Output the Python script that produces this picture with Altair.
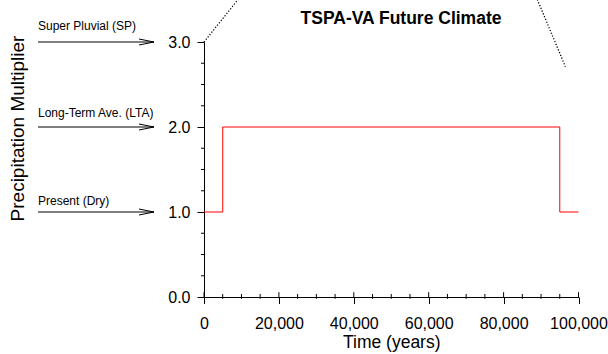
import altair as alt
import pandas as pd

# ---- data ----
time_years = [0, 5000, 95000, 100000]
multiplier = [1.0, 2.0, 1.0, 1.0]

x_major = [0, 20000, 40000, 60000, 80000, 100000]
x_minor = [5000, 10000, 15000, 25000, 30000, 35000, 45000, 50000, 55000,
           65000, 70000, 75000, 85000, 90000, 95000]
y_major = [0.0, 1.0, 2.0, 3.0]
y_minor = [0.25, 0.5, 0.75, 1.25, 1.5, 1.75, 2.25, 2.5, 2.75]

climate_labels = ["Super Pluvial (SP)", "Long-Term Ave. (LTA)", "Present (Dry)"]
climate_levels = [3.0, 2.0, 1.0]

zoom_side = ["left", "left", "right", "right"]
zoom_x = [0, 9100, 89000, 96500]
zoom_y = [3.0, 3.5, 3.5, 2.71]

chart_title = "TSPA-VA Future Climate"
x_title = "Time (years)"
y_title = "Precipitation Multiplier"

FONT = "Liberation Sans"
W, H = 374.5, 255

# ---- tables ----
df = pd.DataFrame({"t": time_years, "m": multiplier})
df_xmaj = pd.DataFrame({"t": x_major})
df_xmin = pd.DataFrame({"t": x_minor})
df_ymin = pd.DataFrame({"m": y_minor})
df_lab = pd.DataFrame({"label": climate_labels, "m": climate_levels})
df_zoom = pd.DataFrame({"side": zoom_side, "t": zoom_x, "m": zoom_y})
df_one = pd.DataFrame({"k": [0]})

xs = alt.Scale(domain=[0, 100000], nice=False, zero=False)
ys = alt.Scale(domain=[0, 3], nice=False, zero=False)

x_axis = alt.Axis(values=x_major, format=",.0f", labelFontSize=16, tickSize=6.5,
                  labelPadding=11.5, title=x_title, titleFontSize=17.5,
                  titleFontWeight="normal", titleY=50, titleBaseline="alphabetic",
                  grid=False, labelFlush=False)
y_axis = alt.Axis(values=y_major, format=".1f", labelFontSize=16, tickSize=7,
                  labelPadding=7, title=y_title, titleFontSize=19,
                  titleFontWeight="normal", titleAngle=270, titleX=-180.5,
                  titleY=86, titleAlign="center", titleBaseline="alphabetic",
                  grid=False)

X = alt.X("t:Q", scale=xs, axis=x_axis, title=x_title)
Y = alt.Y("m:Q", scale=ys, axis=y_axis, title=y_title)

line = alt.Chart(df).mark_line(color="#ff0000", strokeWidth=1,
                               interpolate="step-after").encode(x=X, y=Y)

xmaj_in = alt.Chart(df_xmaj).mark_rule(color="black", strokeWidth=1).encode(
    x=X, y=alt.value(H - 4.8), y2=alt.value(H))
xmin_t = alt.Chart(df_xmin).mark_rule(color="black", strokeWidth=1).encode(
    x=X, y=alt.value(H - 3), y2=alt.value(H + 1.8))
ymin_t = alt.Chart(df_ymin).mark_rule(color="black", strokeWidth=1).encode(
    y=Y, x=alt.value(-3), x2=alt.value(0))

zoom_lines = alt.Chart(df_zoom).mark_line(color="black", strokeWidth=1.3,
                                          strokeDash=[1.2, 1.8], clip=False).encode(
    x=X, y=Y, detail="side:N")

arrows = alt.Chart(df_lab).mark_rule(color="black", strokeWidth=1).encode(
    y=Y, x=alt.value(-166), x2=alt.value(-50))
heads = alt.Chart(df_lab).mark_point(shape="M-1,-0.2L0,0L-1,0.2", size=900,
                                     filled=False, color="black", strokeWidth=1,
                                     opacity=1).encode(y=Y, x=alt.value(-50))

label_dy = [-12, -10, -7]
label_layers = []
for i, lab in enumerate(climate_labels):
    label_layers.append(
        alt.Chart(df_lab[df_lab["label"] == lab]).mark_text(
            align="left", baseline="alphabetic", fontSize=12, font=FONT,
            color="black", dy=label_dy[i]).encode(
            y=Y, x=alt.value(-166), text="label:N"))

title_mark = alt.Chart(df_one).mark_text(
    text=chart_title, fontSize=17.5, fontWeight="bold", font=FONT,
    align="center", baseline="alphabetic", color="black").encode(
    x=alt.value(197), y=alt.value(-18.5))

chart = alt.layer(line, xmaj_in, xmin_t, ymin_t, zoom_lines, arrows, heads,
                  *label_layers, title_mark).properties(
    width=W, height=H,
    autosize=alt.AutoSizeParams(type="none"),
    padding={"left": 204, "top": 42, "right": 29.5, "bottom": 57},
).configure_view(stroke=None).configure_axis(
    labelFont=FONT, titleFont=FONT, labelColor="black", titleColor="black",
    domainColor="black", tickColor="black", domainWidth=1, tickWidth=1,
)

chart.save("out.html", embed_options={"renderer": "svg", "actions": False})
